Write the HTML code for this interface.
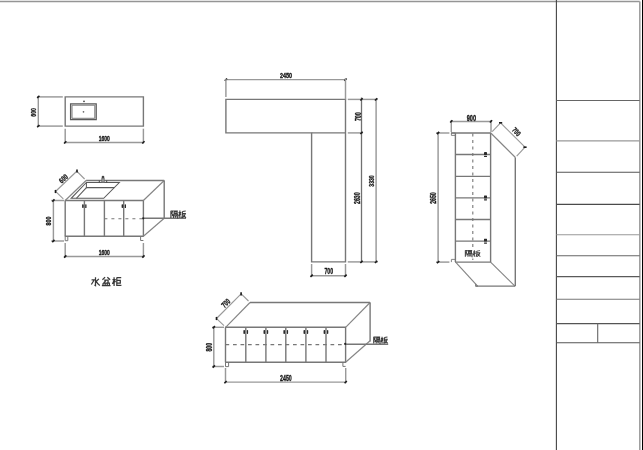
<!DOCTYPE html>
<html><head><meta charset="utf-8"><style>
html,body{margin:0;padding:0;background:#fff;}
body{width:643px;height:450px;overflow:hidden;font-family:"Liberation Sans",sans-serif;}
svg{display:block;filter:grayscale(1);}
text{font-family:"Liberation Sans",sans-serif;}
</style></head><body>
<svg width="643" height="450" viewBox="0 0 643 450">
<rect width="643" height="450" fill="#fff"/>
<line x1="0" y1="1.55" x2="639.8" y2="1.55" stroke="#959595" stroke-width="1.5" />
<line x1="556.4" y1="0" x2="556.4" y2="450" stroke="#444" stroke-width="1.1" />
<line x1="639.8" y1="1.5" x2="639.8" y2="450" stroke="#a0a0a0" stroke-width="1.6" />
<line x1="642.5" y1="0" x2="642.5" y2="450" stroke="#000" stroke-width="1" />
<line x1="556.4" y1="100.56" x2="639.7" y2="100.56" stroke="#666" stroke-width="1.1" />
<line x1="556.4" y1="140.9" x2="639.7" y2="140.9" stroke="#999" stroke-width="1.1" />
<line x1="556.4" y1="172.3" x2="639.7" y2="172.3" stroke="#555" stroke-width="1.1" />
<line x1="556.4" y1="204.4" x2="639.7" y2="204.4" stroke="#4a4a4a" stroke-width="1.1" />
<line x1="556.4" y1="234.8" x2="639.7" y2="234.8" stroke="#999" stroke-width="1.1" />
<line x1="556.4" y1="255.8" x2="639.7" y2="255.8" stroke="#666" stroke-width="1.1" />
<line x1="556.4" y1="276.6" x2="639.7" y2="276.6" stroke="#5a5a5a" stroke-width="1.1" />
<line x1="556.4" y1="299.2" x2="639.7" y2="299.2" stroke="#777" stroke-width="1.1" />
<line x1="556.4" y1="323.6" x2="639.7" y2="323.6" stroke="#555" stroke-width="1.1" />
<line x1="556.4" y1="342.7" x2="639.7" y2="342.7" stroke="#555" stroke-width="1.1" />
<line x1="597.7" y1="323.6" x2="597.7" y2="342.7" stroke="#666" stroke-width="1.1" />
<polygon points="65.2,96.9 143.4,96.9 143.4,126.1 65.2,126.1" fill="none" stroke="#777" stroke-width="1.4" stroke-linejoin="miter"/>
<line x1="37" y1="96.9" x2="62.8" y2="96.9" stroke="#999" stroke-width="1.45" />
<line x1="37" y1="126.1" x2="62.8" y2="126.1" stroke="#999" stroke-width="1.45" />
<line x1="38.3" y1="96.5" x2="38.3" y2="126.5" stroke="#999" stroke-width="1.45" />
<line x1="37.17" y1="98.03" x2="39.43" y2="95.77" stroke="#1a1a1a" stroke-width="1.6"/>
<line x1="37.17" y1="127.23" x2="39.43" y2="124.97" stroke="#1a1a1a" stroke-width="1.6"/>
<g transform="translate(33.00,112.40) rotate(-90) scale(0.636,1)"><text x="0" y="2.90" font-size="8.10" text-anchor="middle" fill="#1a1a1a" stroke="#1a1a1a" stroke-width="0.38" font-weight="bold">600</text></g>
<polygon points="70.6,103.8 96.2,103.8 96.2,119.7 70.6,119.7" fill="none" stroke="#5a5a5a" stroke-width="1.3" stroke-linejoin="miter"/>
<polygon points="72.0,105.2 94.8,105.2 94.8,118.3 72.0,118.3" fill="none" stroke="#7a7a7a" stroke-width="1.0" stroke-linejoin="miter"/>
<circle cx="83.5" cy="111.8" r="0.85" fill="#666"/>
<circle cx="84" cy="101.3" r="0.9" fill="#444"/>
<line x1="65.2" y1="128.7" x2="65.2" y2="143.3" stroke="#999" stroke-width="1.45" />
<line x1="143.4" y1="128.7" x2="143.4" y2="143.3" stroke="#999" stroke-width="1.45" />
<line x1="64.8" y1="142.4" x2="143.8" y2="142.4" stroke="#999" stroke-width="1.45" />
<line x1="64.07" y1="143.53" x2="66.33" y2="141.27" stroke="#1a1a1a" stroke-width="1.6"/>
<line x1="142.27" y1="143.53" x2="144.53" y2="141.27" stroke="#1a1a1a" stroke-width="1.6"/>
<g transform="translate(104.30,138.00) rotate(0) scale(0.644,1)"><text x="0" y="2.80" font-size="7.82" text-anchor="middle" fill="#1a1a1a" stroke="#1a1a1a" stroke-width="0.38" font-weight="bold">1600</text></g>
<line x1="64.8" y1="200.5" x2="143.8" y2="200.5" stroke="#777" stroke-width="1.4" />
<line x1="86.1" y1="180.5" x2="164.2" y2="180.5" stroke="#777" stroke-width="1.4" />
<line x1="65.2" y1="200.5" x2="86.1" y2="180.5" stroke="#858585" stroke-width="1.15" />
<line x1="143.4" y1="200.5" x2="164.2" y2="180.5" stroke="#858585" stroke-width="1.15" />
<line x1="65.2" y1="200.5" x2="65.2" y2="236.3" stroke="#777" stroke-width="1.4" />
<line x1="143.4" y1="200.5" x2="143.4" y2="236.3" stroke="#777" stroke-width="1.4" />
<line x1="64.8" y1="236.3" x2="143.8" y2="236.3" stroke="#777" stroke-width="1.4" />
<line x1="84.4" y1="200.5" x2="84.4" y2="236.3" stroke="#777" stroke-width="1.4" />
<line x1="104.4" y1="200.5" x2="104.4" y2="236.3" stroke="#777" stroke-width="1.4" />
<line x1="123.7" y1="200.5" x2="123.7" y2="236.3" stroke="#777" stroke-width="1.4" />
<line x1="164.2" y1="180.5" x2="164.2" y2="218.2" stroke="#777" stroke-width="1.4" />
<line x1="143.4" y1="236.3" x2="164.2" y2="218.2" stroke="#858585" stroke-width="1.15" />
<rect x="82.10" y="204.20" width="1.6" height="3.8" rx="0.7" fill="#2a2a2a"/>
<rect x="85.20" y="204.20" width="1.3" height="3.8" rx="0.6" fill="#2a2a2a"/>
<rect x="121.60" y="204.20" width="1.6" height="3.8" rx="0.7" fill="#2a2a2a"/>
<rect x="124.70" y="204.20" width="1.3" height="3.8" rx="0.6" fill="#2a2a2a"/>
<line x1="104.4" y1="218.7" x2="143.4" y2="218.7" stroke="#777" stroke-width="1.1" stroke-dasharray="3 4"/>
<line x1="143.4" y1="218.2" x2="186" y2="218.2" stroke="#777" stroke-width="1.4" />
<circle cx="143.2" cy="218.3" r="1.1" fill="#222"/>
<polyline points="65.2,236.3 65.2,240.7 67.8,240.7 67.8,236.3" fill="none" stroke="#777" stroke-width="1" stroke-linejoin="miter"/>
<polyline points="140.6,236.3 140.6,240.5 143.4,240.5" fill="none" stroke="#777" stroke-width="1" stroke-linejoin="miter"/>
<line x1="51.3" y1="200.5" x2="64" y2="200.5" stroke="#999" stroke-width="1.45" />
<line x1="51.3" y1="241" x2="64" y2="241" stroke="#999" stroke-width="1.45" />
<line x1="53.4" y1="200" x2="53.4" y2="241.5" stroke="#999" stroke-width="1.45" />
<line x1="52.27" y1="201.63" x2="54.53" y2="199.37" stroke="#1a1a1a" stroke-width="1.6"/>
<line x1="52.27" y1="242.13" x2="54.53" y2="239.87" stroke="#1a1a1a" stroke-width="1.6"/>
<g transform="translate(48.30,221.00) rotate(-90) scale(0.651,1)"><text x="0" y="2.90" font-size="8.10" text-anchor="middle" fill="#1a1a1a" stroke="#1a1a1a" stroke-width="0.38" font-weight="bold">800</text></g>
<line x1="65.2" y1="243" x2="65.2" y2="257.5" stroke="#999" stroke-width="1.45" />
<line x1="143.4" y1="243" x2="143.4" y2="257.5" stroke="#999" stroke-width="1.45" />
<line x1="64.8" y1="256.5" x2="143.8" y2="256.5" stroke="#999" stroke-width="1.45" />
<line x1="64.07" y1="257.63" x2="66.33" y2="255.37" stroke="#1a1a1a" stroke-width="1.6"/>
<line x1="142.27" y1="257.63" x2="144.53" y2="255.37" stroke="#1a1a1a" stroke-width="1.6"/>
<g transform="translate(104.30,252.00) rotate(0) scale(0.644,1)"><text x="0" y="2.80" font-size="7.82" text-anchor="middle" fill="#1a1a1a" stroke="#1a1a1a" stroke-width="0.38" font-weight="bold">1600</text></g>
<line x1="63.3" y1="198.9" x2="55.3" y2="191.2" stroke="#999" stroke-width="1.15" />
<line x1="84.6" y1="179" x2="76.7" y2="171.2" stroke="#999" stroke-width="1.15" />
<line x1="55.5" y1="191.5" x2="77" y2="171" stroke="#999" stroke-width="1.15" />
<line x1="55.50" y1="193.10" x2="55.50" y2="189.90" stroke="#1a1a1a" stroke-width="1.6"/>
<line x1="77.00" y1="172.60" x2="77.00" y2="169.40" stroke="#1a1a1a" stroke-width="1.6"/>
<g transform="translate(63.30,178.60) rotate(-43) scale(0.745,1)"><text x="0" y="2.65" font-size="7.40" text-anchor="middle" fill="#1a1a1a" stroke="#1a1a1a" stroke-width="0.38" font-weight="bold">600</text></g>
<polygon points="86.4,182.5 119.3,182.5 103.7,198.3 71.2,198.3" fill="none" stroke="#5a5a5a" stroke-width="1.05" stroke-linejoin="miter"/>
<polyline points="86.4,182.5 86.4,187.6 114.2,187.6" fill="none" stroke="#5a5a5a" stroke-width="1.05" stroke-linejoin="miter"/>
<line x1="86.4" y1="187.6" x2="76.4" y2="198.3" stroke="#5a5a5a" stroke-width="1.05" />
<line x1="99.3" y1="180.5" x2="99.3" y2="182.5" stroke="#444" stroke-width="1" />
<line x1="106.7" y1="180.5" x2="106.7" y2="182.5" stroke="#444" stroke-width="1" />
<rect x="101.8" y="178" width="2.4" height="4.5" fill="#999" stroke="#666" stroke-width="0.7"/>
<circle cx="103" cy="177" r="1.3" fill="#444"/>
<line x1="225.5" y1="79.6" x2="345.9" y2="79.6" stroke="#999" stroke-width="1.45" />
<line x1="224.77" y1="80.73" x2="227.03" y2="78.47" stroke="#1a1a1a" stroke-width="1.6"/>
<line x1="344.37" y1="80.73" x2="346.63" y2="78.47" stroke="#1a1a1a" stroke-width="1.6"/>
<line x1="225.9" y1="79" x2="225.9" y2="97" stroke="#999" stroke-width="1.45" />
<g transform="translate(286.00,75.50) rotate(0) scale(0.749,1)"><text x="0" y="2.60" font-size="7.26" text-anchor="middle" fill="#1a1a1a" stroke="#1a1a1a" stroke-width="0.38" font-weight="bold">2450</text></g>
<polygon points="225.9,99.4 345.5,99.4 345.5,261.9 311.6,261.9 311.6,132.9 225.9,132.9" fill="none" stroke="#777" stroke-width="1.4" stroke-linejoin="miter"/>
<line x1="311.6" y1="132.9" x2="345.5" y2="132.9" stroke="#777" stroke-width="1.4" />
<line x1="345.5" y1="78" x2="345.5" y2="99.4" stroke="#999" stroke-width="1.45" />
<line x1="347.8" y1="99.4" x2="377.8" y2="99.4" stroke="#999" stroke-width="1.45" />
<line x1="347.8" y1="132.9" x2="362.8" y2="132.9" stroke="#999" stroke-width="1.45" />
<line x1="347.8" y1="261.9" x2="377.8" y2="261.9" stroke="#999" stroke-width="1.45" />
<line x1="361.5" y1="97.5" x2="361.5" y2="262.3" stroke="#707070" stroke-width="1.3" />
<line x1="376.1" y1="99" x2="376.1" y2="262.3" stroke="#999" stroke-width="1.45" />
<line x1="360.37" y1="100.53" x2="362.63" y2="98.27" stroke="#1a1a1a" stroke-width="1.6"/>
<line x1="360.37" y1="134.03" x2="362.63" y2="131.77" stroke="#1a1a1a" stroke-width="1.6"/>
<line x1="360.37" y1="263.03" x2="362.63" y2="260.77" stroke="#1a1a1a" stroke-width="1.6"/>
<line x1="374.97" y1="100.53" x2="377.23" y2="98.27" stroke="#1a1a1a" stroke-width="1.6"/>
<line x1="374.97" y1="263.03" x2="377.23" y2="260.77" stroke="#1a1a1a" stroke-width="1.6"/>
<g transform="translate(357.50,116.70) rotate(-90) scale(0.609,1)"><text x="0" y="3.10" font-size="8.66" text-anchor="middle" fill="#1a1a1a" stroke="#1a1a1a" stroke-width="0.38" font-weight="bold">700</text></g>
<g transform="translate(357.20,198.20) rotate(-90) scale(0.622,1)"><text x="0" y="3.00" font-size="8.38" text-anchor="middle" fill="#1a1a1a" stroke="#1a1a1a" stroke-width="0.38" font-weight="bold">2630</text></g>
<g transform="translate(371.10,181.00) rotate(-90) scale(0.627,1)"><text x="0" y="2.90" font-size="8.10" text-anchor="middle" fill="#1a1a1a" stroke="#1a1a1a" stroke-width="0.38" font-weight="bold">3330</text></g>
<line x1="311.6" y1="264" x2="311.6" y2="276.7" stroke="#999" stroke-width="1.45" />
<line x1="345.5" y1="264" x2="345.5" y2="276.7" stroke="#999" stroke-width="1.45" />
<line x1="311.2" y1="275.8" x2="345.9" y2="275.8" stroke="#999" stroke-width="1.45" />
<line x1="310.47" y1="276.93" x2="312.73" y2="274.67" stroke="#1a1a1a" stroke-width="1.6"/>
<line x1="344.37" y1="276.93" x2="346.63" y2="274.67" stroke="#1a1a1a" stroke-width="1.6"/>
<g transform="translate(328.80,270.90) rotate(0) scale(0.586,1)"><text x="0" y="3.15" font-size="8.80" text-anchor="middle" fill="#1a1a1a" stroke="#1a1a1a" stroke-width="0.38" font-weight="bold">700</text></g>
<line x1="455.4" y1="133" x2="455.4" y2="262.1" stroke="#777" stroke-width="1.4" />
<line x1="490.6" y1="133" x2="490.6" y2="262.1" stroke="#777" stroke-width="1.4" />
<line x1="451" y1="133" x2="491" y2="133" stroke="#777" stroke-width="1.5" />
<line x1="455" y1="262.1" x2="491" y2="262.1" stroke="#777" stroke-width="1.4" />
<line x1="455.4" y1="154.5" x2="490.6" y2="154.5" stroke="#777" stroke-width="1.4" />
<line x1="455.4" y1="176.4" x2="490.6" y2="176.4" stroke="#777" stroke-width="1.4" />
<line x1="455.4" y1="197.9" x2="490.6" y2="197.9" stroke="#777" stroke-width="1.4" />
<line x1="455.4" y1="219.5" x2="490.6" y2="219.5" stroke="#777" stroke-width="1.4" />
<line x1="455.4" y1="241.1" x2="490.6" y2="241.1" stroke="#777" stroke-width="1.4" />
<rect x="484" y="152.1" width="3" height="2.9" rx="0.4" fill="#2a2a2a"/>
<rect x="484" y="155.8" width="3" height="1.3" rx="0.4" fill="#2a2a2a"/>
<rect x="484" y="195.5" width="3" height="2.9" rx="0.4" fill="#2a2a2a"/>
<rect x="484" y="199.2" width="3" height="1.3" rx="0.4" fill="#2a2a2a"/>
<rect x="484" y="238.7" width="3" height="2.9" rx="0.4" fill="#2a2a2a"/>
<rect x="484" y="242.4" width="3" height="1.3" rx="0.4" fill="#2a2a2a"/>
<line x1="472.8" y1="133.5" x2="472.8" y2="262" stroke="#777" stroke-width="1.1" stroke-dasharray="3 3.5"/>
<polyline points="455.4,133 451.4,133 451.4,135.4 455.4,135.4" fill="none" stroke="#777" stroke-width="0.9" stroke-linejoin="miter"/>
<polyline points="455.4,259.4 451.4,259.4 451.4,262.1" fill="none" stroke="#777" stroke-width="0.9" stroke-linejoin="miter"/>
<line x1="490.8" y1="133" x2="515.4" y2="157.5" stroke="#858585" stroke-width="1.15" />
<line x1="515.3" y1="157.5" x2="515.3" y2="286.1" stroke="#777" stroke-width="1.4" />
<line x1="490.6" y1="262.1" x2="514.9" y2="286.1" stroke="#858585" stroke-width="1.15" />
<line x1="455.6" y1="262.1" x2="477.6" y2="286.1" stroke="#858585" stroke-width="1.15" />
<line x1="475.5" y1="286.1" x2="515.3" y2="286.1" stroke="#777" stroke-width="1.4" />
<polyline points="475.6,283.8 475.6,286.1 478,286.1" fill="none" stroke="#777" stroke-width="0.9" stroke-linejoin="miter"/>
<line x1="451.3" y1="120" x2="451.3" y2="132" stroke="#999" stroke-width="1.45" />
<line x1="491" y1="120" x2="491" y2="132" stroke="#999" stroke-width="1.45" />
<line x1="450.9" y1="121.4" x2="491.5" y2="121.4" stroke="#999" stroke-width="1.45" />
<line x1="450.17" y1="122.53" x2="452.43" y2="120.27" stroke="#1a1a1a" stroke-width="1.6"/>
<line x1="489.87" y1="122.53" x2="492.13" y2="120.27" stroke="#1a1a1a" stroke-width="1.6"/>
<g transform="translate(471.40,117.50) rotate(0) scale(0.651,1)"><text x="0" y="3.10" font-size="8.66" text-anchor="middle" fill="#1a1a1a" stroke="#1a1a1a" stroke-width="0.38" font-weight="bold">900</text></g>
<line x1="492.2" y1="131.6" x2="500.3" y2="123.1" stroke="#999" stroke-width="1.15" />
<line x1="516.7" y1="156.2" x2="524.8" y2="147.4" stroke="#999" stroke-width="1.15" />
<line x1="500.6" y1="122.8" x2="525" y2="147.2" stroke="#999" stroke-width="1.15" />
<line x1="499.00" y1="122.80" x2="502.20" y2="122.80" stroke="#1a1a1a" stroke-width="1.6"/>
<line x1="523.40" y1="147.20" x2="526.60" y2="147.20" stroke="#1a1a1a" stroke-width="1.6"/>
<g transform="translate(516.50,131.70) rotate(45) scale(0.687,1)"><text x="0" y="2.75" font-size="7.68" text-anchor="middle" fill="#1a1a1a" stroke="#1a1a1a" stroke-width="0.38" font-weight="bold">700</text></g>
<line x1="436" y1="133" x2="449.4" y2="133" stroke="#999" stroke-width="1.45" />
<line x1="436" y1="262.1" x2="449.4" y2="262.1" stroke="#999" stroke-width="1.45" />
<line x1="438.1" y1="132.6" x2="438.1" y2="262.5" stroke="#999" stroke-width="1.45" />
<line x1="436.97" y1="134.13" x2="439.23" y2="131.87" stroke="#1a1a1a" stroke-width="1.6"/>
<line x1="436.97" y1="263.23" x2="439.23" y2="260.97" stroke="#1a1a1a" stroke-width="1.6"/>
<g transform="translate(433.10,198.10) rotate(-90) scale(0.588,1)"><text x="0" y="3.15" font-size="8.80" text-anchor="middle" fill="#1a1a1a" stroke="#1a1a1a" stroke-width="0.38" font-weight="bold">2650</text></g>
<line x1="225.1" y1="327.3" x2="346" y2="327.3" stroke="#777" stroke-width="1.4" />
<line x1="250" y1="302.5" x2="370.1" y2="302.5" stroke="#777" stroke-width="1.4" />
<line x1="225.6" y1="327.3" x2="250" y2="302.5" stroke="#858585" stroke-width="1.15" />
<line x1="345.6" y1="327.3" x2="370.1" y2="302.5" stroke="#858585" stroke-width="1.15" />
<line x1="225.5" y1="327.3" x2="225.5" y2="362.3" stroke="#777" stroke-width="1.4" />
<line x1="345.6" y1="327.3" x2="345.6" y2="362.3" stroke="#777" stroke-width="1.4" />
<line x1="225.1" y1="362.3" x2="346" y2="362.3" stroke="#777" stroke-width="1.4" />
<line x1="245.8" y1="327.3" x2="245.8" y2="362.3" stroke="#777" stroke-width="1.4" />
<rect x="243.40" y="330.10" width="1.6" height="3.8" rx="0.7" fill="#2a2a2a"/>
<rect x="246.80" y="330.10" width="1.3" height="3.8" rx="0.6" fill="#2a2a2a"/>
<line x1="265.9" y1="327.3" x2="265.9" y2="362.3" stroke="#777" stroke-width="1.4" />
<rect x="263.50" y="330.10" width="1.6" height="3.8" rx="0.7" fill="#2a2a2a"/>
<rect x="266.90" y="330.10" width="1.3" height="3.8" rx="0.6" fill="#2a2a2a"/>
<line x1="285.8" y1="327.3" x2="285.8" y2="362.3" stroke="#777" stroke-width="1.4" />
<rect x="283.40" y="330.10" width="1.6" height="3.8" rx="0.7" fill="#2a2a2a"/>
<rect x="286.80" y="330.10" width="1.3" height="3.8" rx="0.6" fill="#2a2a2a"/>
<line x1="305.9" y1="327.3" x2="305.9" y2="362.3" stroke="#777" stroke-width="1.4" />
<rect x="303.50" y="330.10" width="1.6" height="3.8" rx="0.7" fill="#2a2a2a"/>
<rect x="306.90" y="330.10" width="1.3" height="3.8" rx="0.6" fill="#2a2a2a"/>
<line x1="326" y1="327.3" x2="326" y2="362.3" stroke="#777" stroke-width="1.4" />
<rect x="323.60" y="330.10" width="1.6" height="3.8" rx="0.7" fill="#2a2a2a"/>
<rect x="327.00" y="330.10" width="1.3" height="3.8" rx="0.6" fill="#2a2a2a"/>
<line x1="370.1" y1="302.5" x2="370.1" y2="341.5" stroke="#777" stroke-width="1.4" />
<line x1="345.6" y1="362.3" x2="370.1" y2="340.7" stroke="#858585" stroke-width="1.15" />
<line x1="225.5" y1="344.6" x2="345.6" y2="344.6" stroke="#777" stroke-width="1.1" stroke-dasharray="3.7 3.8"/>
<line x1="345" y1="344.2" x2="388.2" y2="344.2" stroke="#777" stroke-width="1.4" />
<circle cx="345.2" cy="343.9" r="1.1" fill="#222"/>
<polyline points="225.5,362.3 225.5,366.6 228.6,366.6 228.6,362.3" fill="none" stroke="#777" stroke-width="1" stroke-linejoin="miter"/>
<polyline points="342.9,362.3 342.9,366.4 345.6,366.4" fill="none" stroke="#777" stroke-width="1" stroke-linejoin="miter"/>
<line x1="212.2" y1="327.3" x2="224" y2="327.3" stroke="#999" stroke-width="1.45" />
<line x1="212.2" y1="366.5" x2="224" y2="366.5" stroke="#999" stroke-width="1.45" />
<line x1="213.8" y1="326.9" x2="213.8" y2="366.9" stroke="#999" stroke-width="1.45" />
<line x1="212.67" y1="328.43" x2="214.93" y2="326.17" stroke="#1a1a1a" stroke-width="1.6"/>
<line x1="212.67" y1="367.63" x2="214.93" y2="365.37" stroke="#1a1a1a" stroke-width="1.6"/>
<g transform="translate(209.00,347.20) rotate(-90) scale(0.622,1)"><text x="0" y="3.00" font-size="8.38" text-anchor="middle" fill="#1a1a1a" stroke="#1a1a1a" stroke-width="0.38" font-weight="bold">800</text></g>
<line x1="225.5" y1="368" x2="225.5" y2="383.2" stroke="#999" stroke-width="1.45" />
<line x1="345.7" y1="368" x2="345.7" y2="383.2" stroke="#999" stroke-width="1.45" />
<line x1="225.1" y1="382.1" x2="346.1" y2="382.1" stroke="#999" stroke-width="1.45" />
<line x1="224.37" y1="383.23" x2="226.63" y2="380.97" stroke="#1a1a1a" stroke-width="1.6"/>
<line x1="344.57" y1="383.23" x2="346.83" y2="380.97" stroke="#1a1a1a" stroke-width="1.6"/>
<g transform="translate(285.90,378.30) rotate(0) scale(0.617,1)"><text x="0" y="3.05" font-size="8.52" text-anchor="middle" fill="#1a1a1a" stroke="#1a1a1a" stroke-width="0.38" font-weight="bold">2450</text></g>
<line x1="224" y1="325.7" x2="216.3" y2="318.3" stroke="#999" stroke-width="1.15" />
<line x1="248.5" y1="301" x2="240.9" y2="293.7" stroke="#999" stroke-width="1.15" />
<line x1="216.5" y1="318.5" x2="241.1" y2="293.9" stroke="#999" stroke-width="1.15" />
<line x1="216.50" y1="320.10" x2="216.50" y2="316.90" stroke="#1a1a1a" stroke-width="1.6"/>
<line x1="241.10" y1="295.50" x2="241.10" y2="292.30" stroke="#1a1a1a" stroke-width="1.6"/>
<g transform="translate(225.70,303.00) rotate(-45) scale(0.702,1)"><text x="0" y="2.75" font-size="7.68" text-anchor="middle" fill="#1a1a1a" stroke="#1a1a1a" stroke-width="0.38" font-weight="bold">700</text></g>
<g transform="translate(90.80,276.80) scale(0.940,0.940)"><path d="M5,0.6 V9.4 L3.9,8.7 M0.8,3.4 H3.6 L0.6,8.2 M8.6,2.2 L5.6,5 M5.4,4.2 Q7,7.5 9.6,9.2" fill="none" stroke="#383838" stroke-width="1.330"/></g>
<g transform="translate(101.50,276.80) scale(0.940,0.940)"><path d="M3.8,0.4 L1,3.2 M6.2,0.4 L9.2,3.2 M2.8,3.6 H7 V5.6 L6.3,6 M4.6,3.6 Q4.3,5.2 2.6,6.2 M1.6,6.8 H8.4 V9.4 M1.6,6.8 V9.4 M3.9,6.8 V9.4 M6.1,6.8 V9.4 M0.4,9.5 H9.6" fill="none" stroke="#383838" stroke-width="1.330"/></g>
<g transform="translate(112.20,276.80) scale(0.940,0.940)"><path d="M0.3,3 H3.8 M2,0.4 V9.8 M2,3.6 L0.3,7.6 M2.2,4.2 L3.6,5.6 M4.6,1 H9.6 M4.9,1 V9.2 H9.8 M4.9,3.8 H8.6 V6.6 H4.9" fill="none" stroke="#383838" stroke-width="1.330"/></g>
<g transform="translate(170.10,210.30) scale(0.790,0.790)"><path d="M1,0.5 V9.8 M1,0.8 H3.2 L2.1,4 L3.3,5.6 Q3.4,7 2.2,7.1 M4.2,0.8 H9.8 M5.1,2 H8.9 V4 H5.1 Z M4.4,5 V9.8 M4.4,5 H9.6 V9.7 L8.8,9.4 M5.7,6 L6.2,6.8 M8.2,6 L7.6,6.8 M5.4,7.3 H8.6 M7,7.3 V9.5" fill="none" stroke="#3c3c3c" stroke-width="1.392"/></g>
<g transform="translate(178.30,210.30) scale(0.790,0.790)"><path d="M0.3,3 H3.8 M2,0.4 V9.8 M2,3.6 L0.3,7.6 M2.2,4.2 L3.6,5.6 M9.4,0.9 L5.2,1.6 M5.2,1.6 V5.5 Q5.1,8 4.1,9.6 M5.8,4 H9 Q8.3,7.4 5.3,9.5 M6.4,5.3 Q7.6,8.2 9.8,9.5" fill="none" stroke="#3c3c3c" stroke-width="1.392"/></g>
<rect x="463.5" y="248" width="19" height="10.5" fill="#fff"/>
<g transform="translate(464.60,250.00) scale(0.770,0.700)"><path d="M1,0.5 V9.8 M1,0.8 H3.2 L2.1,4 L3.3,5.6 Q3.4,7 2.2,7.1 M4.2,0.8 H9.8 M5.1,2 H8.9 V4 H5.1 Z M4.4,5 V9.8 M4.4,5 H9.6 V9.7 L8.8,9.4 M5.7,6 L6.2,6.8 M8.2,6 L7.6,6.8 M5.4,7.3 H8.6 M7,7.3 V9.5" fill="none" stroke="#444" stroke-width="1.429"/></g>
<g transform="translate(472.80,250.00) scale(0.770,0.700)"><path d="M0.3,3 H3.8 M2,0.4 V9.8 M2,3.6 L0.3,7.6 M2.2,4.2 L3.6,5.6 M9.4,0.9 L5.2,1.6 M5.2,1.6 V5.5 Q5.1,8 4.1,9.6 M5.8,4 H9 Q8.3,7.4 5.3,9.5 M6.4,5.3 Q7.6,8.2 9.8,9.5" fill="none" stroke="#444" stroke-width="1.429"/></g>
<g transform="translate(373.00,336.40) scale(0.730,0.730)"><path d="M1,0.5 V9.8 M1,0.8 H3.2 L2.1,4 L3.3,5.6 Q3.4,7 2.2,7.1 M4.2,0.8 H9.8 M5.1,2 H8.9 V4 H5.1 Z M4.4,5 V9.8 M4.4,5 H9.6 V9.7 L8.8,9.4 M5.7,6 L6.2,6.8 M8.2,6 L7.6,6.8 M5.4,7.3 H8.6 M7,7.3 V9.5" fill="none" stroke="#3c3c3c" stroke-width="1.507"/></g>
<g transform="translate(380.60,336.40) scale(0.730,0.730)"><path d="M0.3,3 H3.8 M2,0.4 V9.8 M2,3.6 L0.3,7.6 M2.2,4.2 L3.6,5.6 M9.4,0.9 L5.2,1.6 M5.2,1.6 V5.5 Q5.1,8 4.1,9.6 M5.8,4 H9 Q8.3,7.4 5.3,9.5 M6.4,5.3 Q7.6,8.2 9.8,9.5" fill="none" stroke="#3c3c3c" stroke-width="1.507"/></g>
</svg>
</body></html>
